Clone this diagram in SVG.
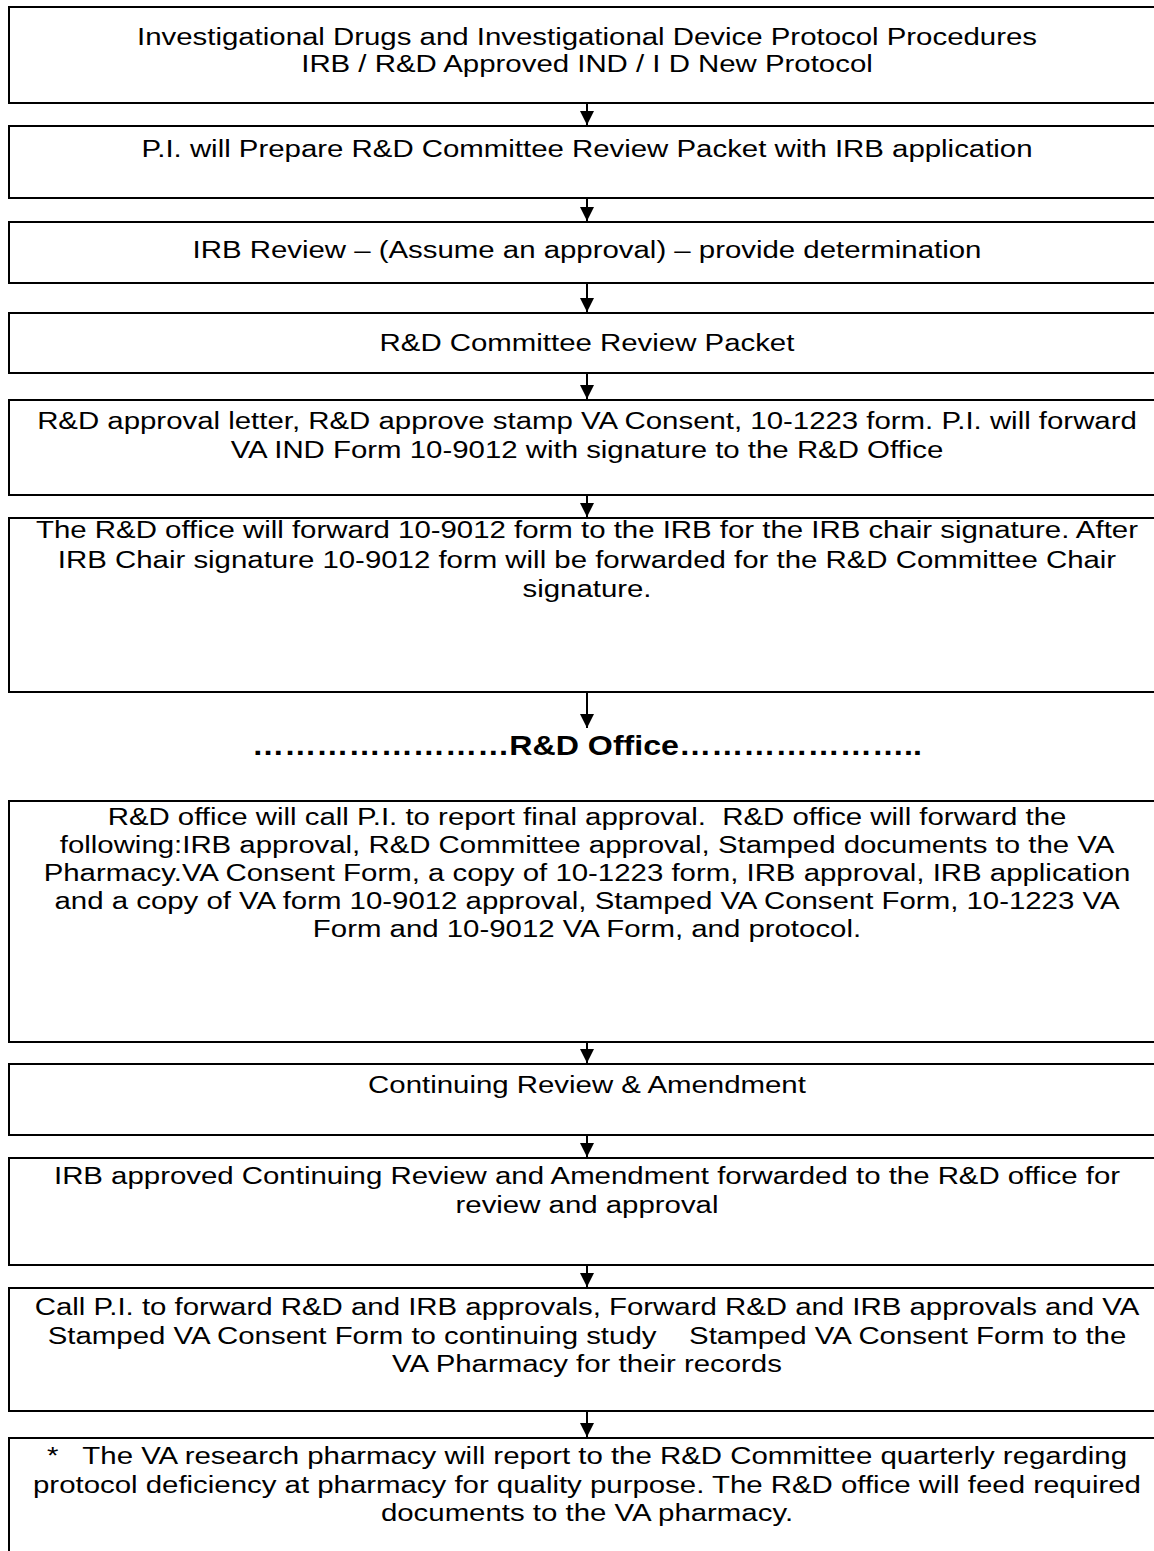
<svg xmlns="http://www.w3.org/2000/svg" width="1154" height="1551" viewBox="0 0 1154 1551">
<style>
.box{fill:#fff;stroke:#000;stroke-width:2}
.t{font-family:"Liberation Sans",Arial,sans-serif;font-size:24.5px;fill:#000;text-anchor:middle}
.b{font-weight:bold;font-size:26.8px}
.c{stroke:#000;stroke-width:2;fill:none}
</style>
<defs>
<marker id="ah" markerUnits="userSpaceOnUse" markerWidth="14" markerHeight="14" refX="14" refY="7" orient="auto">
<path d="M0,0 L14,7 L0,14 z" fill="#000"/>
</marker>
</defs>
<rect width="1154" height="1551" fill="#fff"/>
<g id="n1"><rect class="box" x="9" y="7" width="1160" height="96"/>
<g transform="matrix(1.2,0,0,1,-117.4,0)">
<text class="t" x="587" y="45">Investigational Drugs and Investigational Device Protocol Procedures</text>
<text class="t" x="587" y="72">IRB / R&amp;D Approved IND / I D New Protocol</text></g></g>
<g id="n2"><rect class="box" x="9" y="126" width="1160" height="72"/>
<g transform="matrix(1.2,0,0,1,-117.4,0)">
<text class="t" x="587" y="157">P.I. will Prepare R&amp;D Committee Review Packet with IRB application</text></g></g>
<g id="n3"><rect class="box" x="9" y="222" width="1160" height="61"/>
<g transform="matrix(1.2,0,0,1,-117.4,0)">
<text class="t" x="587" y="258">IRB Review – (Assume an approval) – provide determination</text></g></g>
<g id="n4"><rect class="box" x="9" y="313" width="1160" height="60"/>
<g transform="matrix(1.2,0,0,1,-117.4,0)">
<text class="t" x="587" y="351">R&amp;D Committee Review Packet</text></g></g>
<g id="n5"><rect class="box" x="9" y="400" width="1160" height="95"/>
<g transform="matrix(1.2,0,0,1,-117.4,0)">
<text class="t" x="587" y="429">R&amp;D approval letter, R&amp;D approve stamp VA Consent, 10-1223 form. P.I. will forward</text>
<text class="t" x="587" y="458">VA IND Form 10-9012 with signature to the R&amp;D Office</text></g></g>
<g id="n6"><rect class="box" x="9" y="518" width="1160" height="174"/>
<g transform="matrix(1.2,0,0,1,-117.4,0)">
<text class="t" x="587" y="538">The R&amp;D office will forward 10-9012 form to the IRB for the IRB chair signature. After</text>
<text class="t" x="587" y="568">IRB Chair signature 10-9012 form will be forwarded for the R&amp;D Committee Chair</text>
<text class="t" x="587" y="597">signature.</text></g></g>
<g id="n7"><g transform="matrix(1.2,0,0,1,-117.4,0)">
<text class="t b" x="587" y="755">……………………R&amp;D Office…………………..</text></g></g>
<g id="n8"><rect class="box" x="9" y="801" width="1160" height="241"/>
<g transform="matrix(1.2,0,0,1,-117.4,0)">
<text class="t" x="587" y="825" xml:space="preserve">R&amp;D office will call P.I. to report final approval.  R&amp;D office will forward the</text>
<text class="t" x="587" y="853">following:IRB approval, R&amp;D Committee approval, Stamped documents to the VA</text>
<text class="t" x="587" y="881">Pharmacy.VA Consent Form, a copy of 10-1223 form, IRB approval, IRB application</text>
<text class="t" x="587" y="909">and a copy of VA form 10-9012 approval, Stamped VA Consent Form, 10-1223 VA</text>
<text class="t" x="587" y="937">Form and 10-9012 VA Form, and protocol.</text></g></g>
<g id="n9"><rect class="box" x="9" y="1064" width="1160" height="71"/>
<g transform="matrix(1.2,0,0,1,-117.4,0)">
<text class="t" x="587" y="1093">Continuing Review &amp; Amendment</text></g></g>
<g id="n10"><rect class="box" x="9" y="1158" width="1160" height="107"/>
<g transform="matrix(1.2,0,0,1,-117.4,0)">
<text class="t" x="587" y="1184">IRB approved Continuing Review and Amendment forwarded to the R&amp;D office for</text>
<text class="t" x="587" y="1213">review and approval</text></g></g>
<g id="n11"><rect class="box" x="9" y="1288" width="1160" height="123"/>
<g transform="matrix(1.2,0,0,1,-117.4,0)">
<text class="t" x="587" y="1315">Call P.I. to forward R&amp;D and IRB approvals, Forward R&amp;D and IRB approvals and VA</text>
<text class="t" x="587" y="1344" xml:space="preserve">Stamped VA Consent Form to continuing study    Stamped VA Consent Form to the</text>
<text class="t" x="587" y="1372">VA Pharmacy for their records</text></g></g>
<g id="n12"><rect class="box" x="9" y="1438" width="1160" height="130"/>
<g transform="matrix(1.2,0,0,1,-117.4,0)">
<text class="t" x="587" y="1464" xml:space="preserve">*   The VA research pharmacy will report to the R&amp;D Committee quarterly regarding</text>
<text class="t" x="587" y="1493">protocol deficiency at pharmacy for quality purpose. The R&amp;D office will feed required</text>
<text class="t" x="587" y="1521">documents to the VA pharmacy.</text></g></g>
<g id="connectors">
<line class="c" x1="587" y1="104" x2="587" y2="125" marker-end="url(#ah)"/>
<line class="c" x1="587" y1="199" x2="587" y2="221" marker-end="url(#ah)"/>
<line class="c" x1="587" y1="284" x2="587" y2="312" marker-end="url(#ah)"/>
<line class="c" x1="587" y1="374" x2="587" y2="399" marker-end="url(#ah)"/>
<line class="c" x1="587" y1="496" x2="587" y2="517" marker-end="url(#ah)"/>
<line class="c" x1="587" y1="693" x2="587" y2="728" marker-end="url(#ah)"/>
<line class="c" x1="587" y1="1043" x2="587" y2="1063" marker-end="url(#ah)"/>
<line class="c" x1="587" y1="1136" x2="587" y2="1157" marker-end="url(#ah)"/>
<line class="c" x1="587" y1="1266" x2="587" y2="1287" marker-end="url(#ah)"/>
<line class="c" x1="587" y1="1412" x2="587" y2="1437" marker-end="url(#ah)"/>
</g>
</svg>
